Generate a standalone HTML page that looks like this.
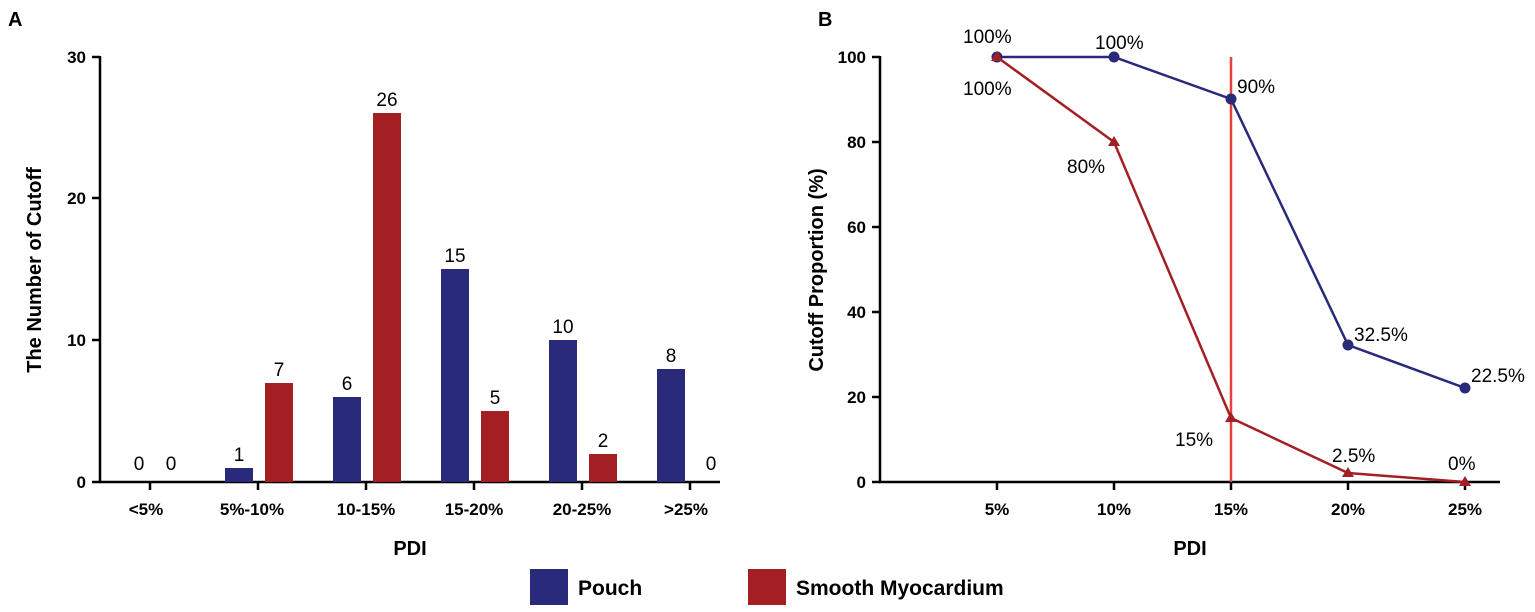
<!DOCTYPE html>
<html><head><meta charset="utf-8"><style>
body{margin:0;background:#fff;}
text{font-family:"Liberation Sans",Arial,sans-serif;}
</style></head><body>
<svg width="1535" height="607" xmlns="http://www.w3.org/2000/svg">
<g font-size="18" fill="#000">
<text x="8" y="26" font-weight="bold" font-size="20">A</text>
<text x="818" y="26" font-weight="bold" font-size="20">B</text>
</g>
<!-- Panel A -->
<g stroke="#000" stroke-width="2.5" fill="none">
<line x1="100" y1="56" x2="100" y2="483"/>
<line x1="99" y1="482" x2="720" y2="482"/>
<line x1="92" y1="57" x2="100" y2="57"/><line x1="92" y1="198" x2="100" y2="198"/>
<line x1="92" y1="340" x2="100" y2="340"/><line x1="92" y1="482" x2="100" y2="482"/>
<line x1="150" y1="482" x2="150" y2="490"/><line x1="258" y1="482" x2="258" y2="490"/>
<line x1="366" y1="482" x2="366" y2="490"/><line x1="474" y1="482" x2="474" y2="490"/>
<line x1="582" y1="482" x2="582" y2="490"/><line x1="690" y1="482" x2="690" y2="490"/>
</g>
<g font-size="17" font-weight="bold" text-anchor="end">
<text x="86" y="63">30</text><text x="86" y="204">20</text><text x="86" y="346">10</text><text x="86" y="488">0</text>
</g>
<g font-size="17" font-weight="bold" text-anchor="middle">
<text x="146" y="515">&lt;5%</text><text x="252" y="515">5%-10%</text><text x="366" y="515">10-15%</text>
<text x="474" y="515">15-20%</text><text x="582" y="515">20-25%</text><text x="686" y="515">&gt;25%</text>
<text x="410" y="555" font-size="20">PDI</text>
<text transform="translate(41,270) rotate(-90)" font-size="20">The Number of Cutoff</text>
</g>
<g fill="#2a2a7a">
<rect x="225" y="468" width="28" height="14"/>
<rect x="333" y="397" width="28" height="85"/>
<rect x="441" y="269" width="28" height="213"/>
<rect x="549" y="340" width="28" height="142"/>
<rect x="657" y="369" width="28" height="113"/>
</g>
<g fill="#a31f24">
<rect x="265" y="383" width="28" height="99"/>
<rect x="373" y="113" width="28" height="369"/>
<rect x="481" y="411" width="28" height="71"/>
<rect x="589" y="454" width="28" height="28"/>
</g>
<g font-size="19" text-anchor="middle">
<text x="139" y="470">0</text><text x="171" y="470">0</text>
<text x="239" y="461">1</text><text x="279" y="376">7</text>
<text x="347" y="390">6</text><text x="387" y="106">26</text>
<text x="455" y="262">15</text><text x="495" y="404">5</text>
<text x="563" y="333">10</text><text x="603" y="447">2</text>
<text x="671" y="362">8</text><text x="711" y="470">0</text>
</g>
<!-- Panel B -->
<g stroke="#000" stroke-width="2.5" fill="none">
<line x1="880" y1="56" x2="880" y2="483"/>
<line x1="879" y1="482" x2="1500" y2="482"/>
<line x1="872" y1="57" x2="880" y2="57"/><line x1="872" y1="142" x2="880" y2="142"/>
<line x1="872" y1="227" x2="880" y2="227"/><line x1="872" y1="312" x2="880" y2="312"/>
<line x1="872" y1="397" x2="880" y2="397"/><line x1="872" y1="482" x2="880" y2="482"/>
<line x1="997" y1="482" x2="997" y2="490"/><line x1="1114" y1="482" x2="1114" y2="490"/>
<line x1="1231" y1="482" x2="1231" y2="490"/><line x1="1348" y1="482" x2="1348" y2="490"/>
<line x1="1465" y1="482" x2="1465" y2="490"/>
</g>
<g font-size="17" font-weight="bold" text-anchor="end">
<text x="866" y="63">100</text><text x="866" y="148">80</text><text x="866" y="233">60</text>
<text x="866" y="318">40</text><text x="866" y="403">20</text><text x="866" y="488">0</text>
</g>
<g font-size="17" font-weight="bold" text-anchor="middle">
<text x="997" y="515">5%</text><text x="1114" y="515">10%</text><text x="1231" y="515">15%</text>
<text x="1348" y="515">20%</text><text x="1465" y="515">25%</text>
<text x="1190" y="555" font-size="20">PDI</text>
<text transform="translate(823,270) rotate(-90)" font-size="20">Cutoff Proportion (%)</text>
</g>
<line x1="1231" y1="57" x2="1231" y2="482" stroke="#e8403a" stroke-width="2.5"/>
<polyline points="997,57 1114,57 1231,99 1348,345 1465,388" fill="none" stroke="#2a2a7a" stroke-width="2.5"/>
<polyline points="997,57 1114,142 1231,418 1348,473 1465,482" fill="none" stroke="#a31f24" stroke-width="2.5"/>
<g fill="#2a2a7a">
<circle cx="997" cy="57" r="5.5"/><circle cx="1114" cy="57" r="5.5"/><circle cx="1231" cy="99" r="5.5"/>
<circle cx="1348" cy="345" r="5.5"/><circle cx="1465" cy="388" r="5.5"/>
</g>
<g fill="#a31f24">
<polygon points="997,51 1003,61 991,61"/><polygon points="1114,136 1120,146 1108,146"/>
<polygon points="1231,412 1237,422 1225,422"/><polygon points="1348,467 1354,477 1342,477"/>
<polygon points="1465,476 1471,486 1459,486"/>
</g>
<g font-size="19">
<text x="963" y="43">100%</text><text x="1095" y="49">100%</text><text x="1237" y="93">90%</text>
<text x="1354" y="341">32.5%</text><text x="1471" y="382">22.5%</text>
<text x="963" y="95">100%</text><text x="1067" y="173">80%</text><text x="1175" y="446">15%</text>
<text x="1332" y="462">2.5%</text><text x="1448" y="470">0%</text>
</g>
<!-- Legend -->
<rect x="530" y="569" width="38" height="36" fill="#2a2a7a"/>
<text x="578" y="595" font-size="21" font-weight="bold">Pouch</text>
<rect x="748" y="569" width="38" height="36" fill="#a31f24"/>
<text x="796" y="595" font-size="21" font-weight="bold">Smooth Myocardium</text>
</svg>
</body></html>
